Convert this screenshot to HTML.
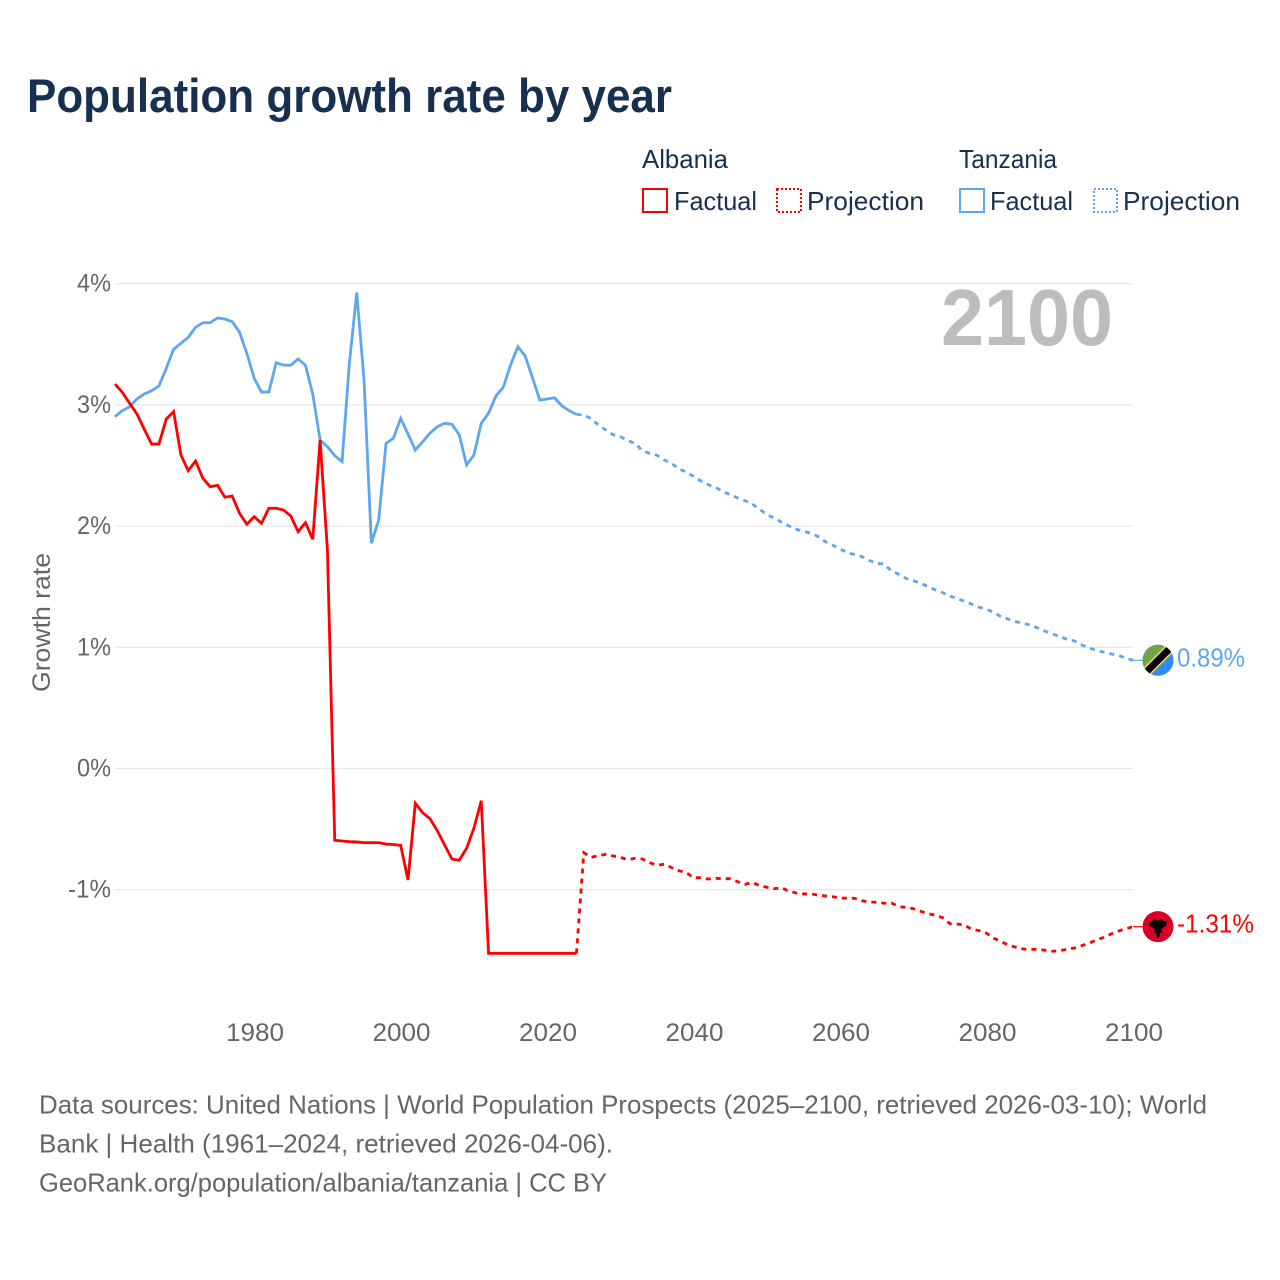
<!DOCTYPE html>
<html lang="en">
<head>
<meta charset="utf-8">
<title>Population growth rate by year</title>
<style>
html,body{margin:0;padding:0;background:#fff;}
svg{display:block;font-family:"Liberation Sans",sans-serif;}
</style>
</head>
<body>
<svg id="chart" xmlns="http://www.w3.org/2000/svg" width="1280" height="1280" viewBox="0 0 1280 1280">
  <rect width="1280" height="1280" fill="#ffffff"/>
  <text x="27" y="112" font-size="47" font-weight="700" fill="#17304f" textLength="645" lengthAdjust="spacingAndGlyphs">Population growth rate by year</text>

  <g font-size="26" fill="#17304f">
    <text x="642" y="168" textLength="86" lengthAdjust="spacingAndGlyphs">Albania</text>
    <rect x="643" y="189" width="24" height="23" fill="none" stroke="#ff0000" stroke-width="2"/>
    <text x="674" y="210" textLength="83" lengthAdjust="spacingAndGlyphs">Factual</text>
    <rect x="777" y="189" width="24" height="23" fill="none" stroke="#ff0000" stroke-width="2" stroke-dasharray="2 2"/>
    <text x="807" y="210" textLength="117" lengthAdjust="spacingAndGlyphs">Projection</text>
    <text x="959" y="168" textLength="98" lengthAdjust="spacingAndGlyphs">Tanzania</text>
    <rect x="960" y="189" width="24" height="23" fill="none" stroke="#5ea6ee" stroke-width="2"/>
    <text x="990" y="210" textLength="83" lengthAdjust="spacingAndGlyphs">Factual</text>
    <rect x="1094" y="189" width="23" height="23" fill="none" stroke="#5ea6ee" stroke-width="2" stroke-dasharray="2 2"/>
    <text x="1123" y="210" textLength="117" lengthAdjust="spacingAndGlyphs">Projection</text>
  </g>

  <g id="grid"></g>
  <g id="y-ticks"></g>
  <g id="x-ticks"></g>

  <text transform="translate(50 622.5) rotate(-90)" text-anchor="middle" font-size="25" fill="#666666" textLength="139" lengthAdjust="spacingAndGlyphs">Growth rate</text>
  <text x="941" y="345" font-size="80" font-weight="700" fill="#bdbdbd" textLength="172" lengthAdjust="spacingAndGlyphs">2100</text>

  <g id="series"></g>

  <defs>
    <clipPath id="flag-clip"><circle cx="0" cy="0" r="15.5"/></clipPath>
  </defs>
  <g id="flag-tanzania">
    <g clip-path="url(#flag-clip)">
      <rect x="-16" y="-16" width="32" height="32" fill="#338af3"/>
      <polygon points="-16,-16 16,-16 -16,16" fill="#6da544"/>
      <line x1="-17" y1="17" x2="17" y2="-17" stroke="#ffda44" stroke-width="10"/>
      <line x1="-17" y1="17" x2="17" y2="-17" stroke="#000000" stroke-width="7"/>
    </g>
  </g>
  <g id="flag-albania">
    <circle cx="0" cy="0" r="15.5" fill="#d80027"/>
    <polygon fill="#000000" points="-9,-5 -5,-6 -3,-8 -1,-6 1,-6 3,-8 5,-6 9,-5 8,-1 5,1 3,3 4,6 2,6 1,11 -1,11 -2,6 -4,6 -3,3 -5,1 -8,-1"/>
  </g>
  <text id="label-tanzania" x="1177" font-size="26" fill="#5ea6ee" textLength="68" lengthAdjust="spacingAndGlyphs">0.89%</text>
  <text id="label-albania" x="1177" font-size="26" fill="#ff0000" textLength="77" lengthAdjust="spacingAndGlyphs">-1.31%</text>

  <g font-size="26" fill="#666666">
    <text x="39" y="1113.5" textLength="1168" lengthAdjust="spacingAndGlyphs">Data sources: United Nations | World Population Prospects (2025–2100, retrieved 2026-03-10); World</text>
    <text x="39" y="1152.5" textLength="574" lengthAdjust="spacingAndGlyphs">Bank | Health (1961–2024, retrieved 2026-04-06).</text>
    <text x="39" y="1191.5" textLength="568" lengthAdjust="spacingAndGlyphs">GeoRank.org/population/albania/tanzania | CC BY</text>
  </g>
</svg>

<script>
const firstFactualYear = 1961;
const firstProjectionYear = 2025;

const albaniaFactual = [3.172,3.104,3.013,2.925,2.799,2.677,2.677,2.884,2.944,2.587,2.457,2.537,2.394,2.325,2.337,2.238,2.248,2.106,2.015,2.078,2.023,2.147,2.147,2.133,2.083,1.954,2.028,1.891,2.710,1.803,-0.592,-0.598,-0.604,-0.606,-0.612,-0.612,-0.612,-0.623,-0.627,-0.634,-0.920,-0.287,-0.365,-0.414,-0.513,-0.631,-0.747,-0.757,-0.658,-0.493,-0.266,-1.525,-1.525,-1.525,-1.525,-1.525,-1.525,-1.525,-1.525,-1.525,-1.525,-1.525,-1.525,-1.525];

const albaniaProjection = [-0.695,-0.733,-0.719,-0.708,-0.722,-0.733,-0.752,-0.741,-0.747,-0.777,-0.799,-0.790,-0.818,-0.843,-0.860,-0.901,-0.901,-0.912,-0.906,-0.909,-0.909,-0.934,-0.956,-0.939,-0.967,-0.980,-0.992,-0.983,-1.013,-1.027,-1.035,-1.035,-1.044,-1.052,-1.058,-1.068,-1.071,-1.071,-1.091,-1.101,-1.104,-1.112,-1.110,-1.140,-1.145,-1.157,-1.178,-1.198,-1.211,-1.231,-1.281,-1.283,-1.294,-1.327,-1.338,-1.360,-1.401,-1.429,-1.459,-1.475,-1.489,-1.492,-1.492,-1.500,-1.508,-1.503,-1.492,-1.481,-1.462,-1.440,-1.415,-1.393,-1.365,-1.341,-1.322,-1.305];

const tanzaniaFactual = [2.903,2.952,2.985,3.049,3.090,3.117,3.156,3.302,3.459,3.508,3.558,3.640,3.678,3.678,3.717,3.709,3.687,3.599,3.426,3.220,3.106,3.106,3.348,3.329,3.327,3.379,3.327,3.090,2.710,2.655,2.581,2.533,3.346,3.926,3.205,1.858,2.050,2.683,2.724,2.889,2.760,2.628,2.696,2.766,2.820,2.848,2.840,2.752,2.504,2.587,2.848,2.931,3.073,3.145,3.329,3.480,3.403,3.222,3.040,3.049,3.059,2.993,2.952,2.922];

const tanzaniaProjection = [2.917,2.886,2.834,2.793,2.754,2.738,2.705,2.683,2.622,2.601,2.584,2.545,2.518,2.469,2.449,2.408,2.372,2.342,2.320,2.284,2.259,2.232,2.210,2.182,2.139,2.094,2.067,2.031,2.001,1.974,1.957,1.941,1.913,1.871,1.842,1.811,1.781,1.764,1.748,1.716,1.693,1.687,1.630,1.602,1.569,1.550,1.528,1.500,1.473,1.451,1.423,1.401,1.380,1.355,1.330,1.314,1.286,1.252,1.231,1.211,1.198,1.182,1.159,1.132,1.110,1.087,1.066,1.052,1.019,0.994,0.975,0.959,0.945,0.934,0.909,0.893];

const yTickValues = [4,3,2,1,0,-1];
const yTickLabels = ["4%","3%","2%","1%","0%","-1%"];
const xTickValues = [1980,2000,2020,2040,2060,2080,2100];
const xTickLabels = ["1980","2000","2020","2040","2060","2080","2100"];

const SVG_NS = "http://www.w3.org/2000/svg";
function xScale(year){ return 115 + (year - 1961) * 7.325; }
function yScale(value){ return 768.5 - value * 121.2; }

function pointsFor(values, startYear){
  return values.map(function(v, i){
    return xScale(startYear + i).toFixed(2) + "," + yScale(v).toFixed(2);
  });
}

const gridLayer = document.getElementById("grid");
const yTickLayer = document.getElementById("y-ticks");
const xTickLayer = document.getElementById("x-ticks");
const seriesLayer = document.getElementById("series");

yTickValues.forEach(function(v, i){
  const line = document.createElementNS(SVG_NS, "line");
  
  
  line.setAttribute("x1", 115);
  line.setAttribute("x2", 1133);
  line.setAttribute("y1", yScale(v));
  line.setAttribute("y2", yScale(v));
  line.setAttribute("stroke", "#e8e8e8");
  line.setAttribute("stroke-width", "1.3");
  gridLayer.appendChild(line);

  const label = document.createElementNS(SVG_NS, "text");
  
  
  label.setAttribute("x", 111);
  label.setAttribute("y", yScale(v) + 8);
  label.setAttribute("text-anchor", "end");
  label.setAttribute("font-size", "25");
  label.setAttribute("fill", "#666666");
  label.setAttribute("textLength", yTickLabels[i].length > 2 ? 43 : 34);
  label.setAttribute("lengthAdjust", "spacingAndGlyphs");
  label.textContent = yTickLabels[i];
  yTickLayer.appendChild(label);
});

xTickValues.forEach(function(year, i){
  const label = document.createElementNS(SVG_NS, "text");
  
  
  label.setAttribute("x", xScale(year) + 0.8);
  label.setAttribute("y", 1041);
  label.setAttribute("text-anchor", "middle");
  label.setAttribute("font-size", "25");
  label.setAttribute("fill", "#666666");
  label.setAttribute("textLength", 58);
  label.setAttribute("lengthAdjust", "spacingAndGlyphs");
  label.textContent = xTickLabels[i];
  xTickLayer.appendChild(label);
});

function drawLine(name, pts, color, dashed){
  const line = document.createElementNS(SVG_NS, "polyline");
  
  
  line.setAttribute("points", pts.join(" "));
  line.setAttribute("fill", "none");
  line.setAttribute("stroke", color);
  line.setAttribute("stroke-width", "2.8");
  line.setAttribute("stroke-linejoin", "miter");
  if (dashed) line.setAttribute("stroke-dasharray", "5 5");
  seriesLayer.appendChild(line);
}

function drawSeries(key, factual, projection, color){
  const factualPts = pointsFor(factual, firstFactualYear);
  const projectionPts = pointsFor(projection, firstProjectionYear);
  drawLine(key + "-factual-line", factualPts, color, false);
  drawLine(key + "-projection-line", [factualPts[factualPts.length - 1]].concat(projectionPts), color, true);

  const lastValue = projection[projection.length - 1];
  const lastY = yScale(lastValue);
  const connector = document.createElementNS(SVG_NS, "line");
  
  
  connector.setAttribute("x1", xScale(2100));
  connector.setAttribute("x2", 1143);
  connector.setAttribute("y1", lastY);
  connector.setAttribute("y2", lastY);
  connector.setAttribute("stroke", color);
  connector.setAttribute("stroke-width", "1.2");
  seriesLayer.appendChild(connector);

  document.getElementById("flag-" + key).setAttribute("transform", "translate(1158 " + lastY.toFixed(2) + ")");
  document.getElementById("label-" + key).setAttribute("y", (lastY + 6).toFixed(2));
}

drawSeries("tanzania", tanzaniaFactual, tanzaniaProjection, "#5ea6ee");
drawSeries("albania", albaniaFactual, albaniaProjection, "#ff0000");
</script>
</body>
</html>
